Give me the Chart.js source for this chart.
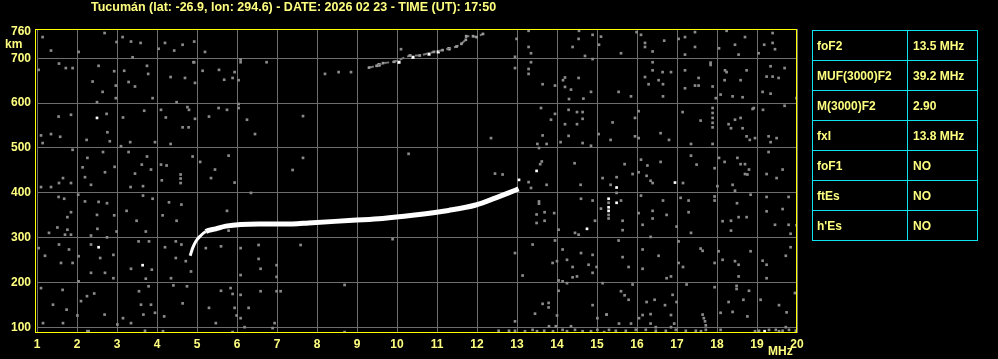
<!DOCTYPE html>
<html>
<head>
<meta charset="utf-8">
<script src="https://cdn.jsdelivr.net/npm/chart.js@4/dist/chart.umd.min.js"></script>
<style>
  html, body { margin: 0; padding: 0; background: #000; }
  #wrap { position: relative; width: 998px; height: 359px; overflow: hidden; }
  #chart { position: absolute; left: 0; top: 0; }
  #params {
    position: absolute; left: 812px; top: 30px;
    border-collapse: collapse; border: 1px solid #10e0f0;
    font: bold 12px "Liberation Sans", Arial, sans-serif; color: #ffff80;
  }
  #params td { border: 1px solid #10e0f0; height: 29px; padding: 0 0 0 4px; white-space: nowrap; }
  #params td.k { width: 90px; }
  #params td.v { width: 64px; padding-left: 5px; }
</style>
</head>
<body>
<div id="wrap">
  <canvas id="chart" width="998" height="359"></canvas>
  <table id="params"></table>
</div>
<script>
  const title = 'Tucumán (lat: -26.9, lon: 294.6) - DATE: 2026 02 23 - TIME (UT): 17:50';
  const xTicks = [1, 2, 3, 4, 5, 6, 7, 8, 9, 10, 11, 12, 13, 14, 15, 16, 17, 18, 19, 20];
  const yTicks = [100, 200, 300, 400, 500, 600, 700, 760];

  const paramNames = ['foF2', 'MUF(3000)F2', 'M(3000)F2', 'fxI', 'foF1', 'ftEs', "h'Es"];
  const paramValues = ['13.5 MHz', '39.2 MHz', '2.90', '13.8 MHz', 'NO', 'NO', 'NO'];

  // F2 trace (ordinary echo)
  const traceMHz = [4.83, 4.89, 4.97, 5.07, 5.22, 5.47, 5.72, 6.54, 7.39, 7.79, 8.89, 9.64, 10.39, 11.29, 11.97, 12.47, 12.79, 13.04];
  const traceKm = [260, 277, 292, 303, 314, 320, 326, 331, 331, 333, 339, 343, 350, 361, 373, 389, 400, 409];

  // second hop trace
  const hopMHz = [9.30, 9.49, 9.65, 9.93, 10.32, 10.57, 10.92, 11.14, 11.49, 11.61, 11.72, 11.73, 11.90, 11.99, 12.15];
  const hopKm = [679, 683, 689, 692, 706, 706, 714, 718, 726, 732, 741, 749, 749, 747, 754];
  const hopWhite = [[10.05, 691], [10.40, 702], [10.80, 709], [11.03, 714], [11.30, 721], [9.55, 685]];

  const whiteSpecks = [[2.50, 567], [2.54, 279], [3.64, 239], [13.49, 449], [14.75, 320], [16.95, 423],
    [15.49, 412], [15.29, 387], [15.29, 368], [15.29, 360], [15.49, 378], [19.19, 92], [13.05, 429]];

  const noiseLow = [
    [2.69, 756], [1.14, 747], [2.99, 736], [3.14, 747], [3.35, 737], [3.59, 734], [3.39, 702], [2.04, 714],
    [1.35, 717], [4.20, 734], [4.43, 717], [4.04, 721], [4.64, 730], [5.20, 714], [4.93, 737], [1.55, 688],
    [1.72, 678], [1.89, 678], [1.04, 674], [2.54, 683], [3.18, 672], [2.93, 671], [3.78, 665], [3.75, 683],
    [4.34, 658], [4.70, 656], [4.95, 645], [5.14, 672], [5.55, 674], [5.68, 652], [4.91, 691], [4.93, 691],
    [2.97, 639], [2.64, 625], [2.97, 611], [2.50, 602], [3.89, 611], [4.49, 602], [2.39, 648], [3.29, 647],
    [3.45, 637], [1.85, 574], [1.54, 570], [2.74, 576], [3.15, 568], [3.68, 583], [4.10, 585], [4.22, 568],
    [4.76, 591], [4.80, 585], [4.95, 565], [5.30, 570], [5.54, 589], [4.64, 546], [4.79, 546], [1.10, 528],
    [1.35, 531], [1.14, 511], [1.58, 525], [2.24, 518], [2.76, 535], [2.82, 515], [3.10, 504], [3.33, 513],
    [3.95, 513], [4.34, 509], [1.89, 496], [2.26, 478], [2.14, 457], [2.20, 435], [2.35, 418], [2.70, 446],
    [2.94, 458], [1.55, 422], [1.65, 433], [1.85, 422], [1.35, 413], [1.10, 413], [2.65, 491], [3.29, 491],
    [3.75, 481], [3.62, 463], [3.85, 452], [3.45, 443], [3.65, 415], [3.34, 413], [4.10, 463], [4.24, 461],
    [4.12, 428], [4.59, 441], [4.59, 422], [4.59, 432], [4.89, 481], [5.08, 469], [5.35, 433], [5.45, 452],
    [1.54, 391], [1.68, 387], [2.03, 396], [2.20, 381], [2.54, 380], [2.75, 377], [1.85, 357], [1.76, 346],
    [2.50, 351], [2.93, 350], [2.99, 314], [3.24, 360], [3.49, 338], [3.65, 394], [3.89, 387], [4.14, 350],
    [4.30, 379], [4.61, 374], [4.49, 338], [3.72, 314], [1.51, 323], [1.76, 318], [1.30, 311], [1.70, 307],
    [1.85, 307], [2.51, 320], [2.35, 305], [2.75, 301], [1.04, 277], [1.55, 285], [1.80, 274], [1.20, 260],
    [1.60, 244], [1.89, 244], [2.04, 259], [2.35, 285], [2.58, 255], [2.91, 262], [2.91, 210], [2.35, 222],
    [2.70, 222], [3.54, 292], [3.80, 292], [3.35, 231], [3.87, 229], [3.72, 209], [4.20, 279], [4.47, 292],
    [4.61, 285], [4.47, 255], [4.72, 248], [4.35, 210], [4.85, 225], [5.22, 277], [5.60, 281], [1.10, 188],
    [1.64, 184], [2.04, 203], [2.25, 170], [2.43, 176], [2.10, 159], [1.40, 151], [1.74, 140], [2.01, 127],
    [1.65, 110], [1.15, 110], [2.69, 129], [3.15, 121], [3.35, 110], [3.01, 107], [3.55, 181], [3.79, 192],
    [3.60, 151], [3.85, 151], [3.66, 129], [3.95, 133], [4.18, 125], [4.41, 194], [4.75, 192], [4.64, 154],
    [5.30, 144], [5.60, 182], [5.47, 110], [2.26, 92], [3.70, 93], [2.29, 92], [4.15, 92]
  ];

  const noiseMid = [
    [6.09, 697], [6.09, 691], [6.74, 691], [5.94, 669], [5.89, 656], [6.04, 651], [8.20, 665], [8.54, 669],
    [8.85, 669], [10.10, 720], [5.75, 585], [6.04, 598], [6.04, 589], [6.25, 563], [6.45, 531], [7.65, 571],
    [5.79, 483], [7.65, 478], [7.39, 451], [10.29, 487], [5.94, 423], [6.35, 400], [5.75, 360], [5.79, 316],
    [6.09, 277], [6.54, 284], [7.59, 284], [6.54, 253], [6.59, 231], [6.99, 239], [6.99, 213], [6.09, 217],
    [5.84, 188], [5.89, 175], [6.09, 173], [6.59, 181], [6.99, 181], [7.09, 181], [8.69, 195], [9.89, 297],
    [5.94, 144], [6.29, 144], [6.09, 121], [5.99, 127], [6.19, 101], [6.94, 110], [6.89, 99], [5.89, 90],
    [8.69, 90], [12.35, 522], [12.45, 443], [12.64, 441], [12.95, 703], [12.95, 678], [12.99, 743],
    [12.95, 266], [13.14, 216], [12.95, 114], [12.54, 93], [12.80, 93], [12.95, 93]
  ];

  const noiseHigh = [
    [13.29, 761], [14.55, 761], [14.89, 752], [15.10, 748], [15.05, 730], [14.54, 743], [14.39, 725],
    [13.29, 725], [13.35, 711], [14.70, 705], [14.89, 698], [13.35, 691], [13.29, 676], [13.29, 665],
    [13.64, 642], [13.95, 639], [14.20, 657], [14.15, 651], [14.20, 636], [14.35, 630], [14.54, 656],
    [14.85, 625], [14.30, 609], [14.66, 610], [13.60, 589], [13.95, 576], [13.85, 563], [14.29, 585],
    [14.50, 580], [14.64, 580], [14.64, 565], [14.20, 553], [14.50, 553], [15.04, 531], [13.64, 528],
    [14.29, 527], [14.64, 511], [14.85, 505], [14.09, 513], [13.51, 509], [13.74, 509], [13.55, 500],
    [13.62, 470], [13.58, 464], [13.35, 411], [13.29, 424], [13.74, 418], [14.44, 466], [15.14, 433],
    [14.59, 418], [13.55, 381], [13.55, 376], [13.69, 357], [13.49, 352], [13.49, 333], [13.69, 338],
    [13.93, 355], [14.60, 387], [14.89, 383], [15.10, 365], [14.04, 318], [14.45, 311], [14.54, 307],
    [14.95, 338], [13.39, 285], [13.95, 294], [14.14, 274], [14.25, 251], [14.00, 248], [13.89, 244],
    [14.39, 235], [14.60, 266], [14.89, 262], [14.79, 240], [14.99, 235], [14.39, 212], [14.50, 214],
    [14.89, 222], [14.04, 205], [14.14, 203], [14.25, 199], [15.14, 199], [14.04, 182], [13.64, 153],
    [13.79, 155], [13.79, 145], [13.45, 131], [14.89, 150], [14.00, 127], [15.01, 121], [15.24, 129],
    [13.39, 95], [13.68, 93], [13.80, 103], [13.97, 103], [14.14, 95], [14.35, 103], [14.45, 95],
    [14.64, 92], [14.85, 92], [15.01, 95], [15.18, 90], [13.20, 92], [13.50, 92], [13.90, 92], [14.25, 92],
    [15.99, 758], [16.10, 752], [16.68, 739], [17.04, 743], [17.20, 747], [17.45, 758], [18.24, 761],
    [18.70, 747], [19.39, 756], [15.60, 711], [16.20, 734], [16.20, 725], [16.39, 715], [17.20, 708],
    [17.45, 725], [18.05, 722], [18.54, 708], [18.45, 730], [19.04, 711], [19.18, 730], [19.39, 734],
    [19.45, 720], [16.39, 691], [17.84, 685], [17.84, 690], [16.39, 673], [16.64, 669], [16.85, 669],
    [17.20, 673], [18.20, 673], [18.24, 669], [18.74, 673], [19.34, 682], [19.69, 678], [16.20, 658],
    [16.29, 642], [16.54, 651], [16.65, 642], [17.54, 656], [17.20, 633], [17.45, 639], [17.54, 639],
    [17.89, 637], [18.19, 651], [18.59, 651], [19.24, 659], [19.39, 659], [19.54, 656], [15.54, 625],
    [15.85, 615], [16.65, 615], [17.97, 611], [18.09, 619], [18.39, 615], [18.64, 613], [19.14, 625],
    [19.34, 621], [19.99, 611], [17.89, 589], [17.89, 578], [17.89, 567], [17.89, 556], [17.89, 546],
    [16.04, 582], [15.95, 567], [15.39, 557], [15.34, 518], [15.95, 526], [16.04, 522], [16.59, 533],
    [16.80, 518], [17.14, 580], [17.59, 561], [17.35, 509], [17.89, 509], [18.29, 553], [18.35, 544],
    [18.45, 563], [18.59, 567], [18.64, 544], [18.74, 526], [18.82, 518], [18.95, 522], [18.89, 587],
    [18.92, 589], [19.15, 585], [19.29, 526], [19.49, 522], [19.34, 513], [19.69, 594], [15.69, 464],
    [15.89, 442], [15.49, 435], [15.34, 418], [15.49, 400], [15.29, 378], [15.29, 351], [15.29, 343],
    [15.60, 383], [16.04, 446], [16.10, 474], [16.26, 461], [16.59, 469], [16.24, 438], [16.39, 422],
    [16.34, 427], [17.15, 422], [17.35, 483], [17.49, 463], [17.94, 455], [18.01, 415], [18.05, 478],
    [18.19, 469], [18.39, 418], [18.45, 405], [18.51, 478], [18.59, 464], [18.70, 464], [18.80, 452],
    [18.70, 442], [18.76, 441], [19.24, 442], [19.49, 433], [19.64, 452], [19.29, 491], [16.10, 394],
    [16.04, 355], [16.39, 360], [16.39, 343], [15.64, 338], [15.64, 317], [16.14, 329], [16.34, 302],
    [16.74, 351], [16.65, 383], [16.99, 325], [17.09, 389], [17.29, 383], [17.29, 357], [17.35, 311],
    [17.94, 392], [17.94, 383], [18.14, 337], [18.35, 338], [18.35, 316], [18.54, 346], [18.74, 346],
    [18.50, 377], [18.84, 396], [19.24, 391], [19.24, 359], [19.64, 364], [19.79, 391], [19.79, 329],
    [19.84, 309], [19.99, 328], [19.45, 329], [15.54, 294], [15.64, 257], [15.79, 235], [16.14, 274],
    [16.14, 231], [16.54, 260], [16.74, 210], [16.85, 214], [17.04, 292], [17.04, 244], [17.15, 235],
    [17.59, 276], [17.64, 271], [17.94, 244], [18.04, 270], [18.14, 251], [18.45, 248], [18.54, 240],
    [18.54, 214], [18.84, 270], [19.14, 249], [19.24, 240], [19.24, 210], [19.72, 260], [19.84, 279],
    [15.89, 196], [15.60, 181], [15.69, 172], [15.79, 162], [16.24, 157], [16.14, 128], [16.34, 130],
    [16.44, 162], [16.70, 150], [16.85, 128], [16.89, 173], [16.99, 157], [17.24, 196], [17.64, 129],
    [17.67, 121], [17.70, 114], [17.72, 105], [17.94, 190], [18.09, 133], [18.39, 135], [18.29, 157],
    [18.49, 193], [18.49, 186], [18.66, 162], [18.80, 182], [19.09, 162], [19.55, 150], [19.74, 134],
    [19.95, 177], [15.24, 129], [15.55, 109], [15.85, 109], [16.05, 121], [16.34, 109], [16.47, 101],
    [16.85, 101], [16.93, 109], [18.76, 125], [19.72, 101],
    [15.30, 95], [15.47, 93], [15.72, 93], [15.97, 95], [16.22, 95], [16.47, 93], [16.72, 93], [16.97, 95],
    [17.22, 93], [17.47, 93], [17.72, 95], [18.09, 95], [19.05, 93], [19.30, 95], [19.47, 95], [19.64, 93],
    [19.80, 95], [19.97, 93], [17.60, 92], [18.95, 92], [19.55, 92]
  ];

  const GRID = '#6e6e6e';
  const SPECK = '#8a8a8a';
  const YELLOW = '#ffff80';
  const FONT = { family: '"Liberation Sans", Arial, sans-serif', size: 12, weight: 'bold' };

  const table = document.getElementById('params');
  table.innerHTML = paramNames.map((name, i) =>
    `<tr><td class="k">${name}</td><td class="v">${paramValues[i]}</td></tr>`).join('');

  const toPoints = (pairs) => pairs.map(([x, y]) => ({ x, y }));

  const frame = {
    id: 'frame',
    afterDatasetsDraw(chart) {
      const { ctx, chartArea: a } = chart;
      ctx.save();
      ctx.strokeStyle = '#ffff00';
      ctx.lineWidth = 1;
      ctx.strokeRect(a.left - 1.5, a.top + 0.5, a.right - a.left + 1, a.bottom - a.top - 1);
      ctx.fillStyle = YELLOW;
      ctx.textBaseline = 'middle';
      ctx.textAlign = 'left';
      ctx.font = `bold 12.5px ${FONT.family}`;
      ctx.fillText(title, 91, 8);
      ctx.font = `bold 12px ${FONT.family}`;
      ctx.fillText('km', 5, 45);
      ctx.fillText('MHz', 768, 352);
      ctx.restore();
    }
  };

  new Chart(document.getElementById('chart'), {
    type: 'scatter',
    data: {
      datasets: [
        {
          data: toPoints(noiseLow.concat(noiseMid, noiseHigh)),
          pointStyle: 'rect', pointRadius: 1.9, pointBackgroundColor: SPECK, pointBorderWidth: 0
        },
        {
          type: 'line',
          data: hopMHz.map((x, i) => ({ x, y: hopKm[i] })),
          borderColor: '#7a7a7a', borderWidth: 2, borderDash: [5, 3],
          pointStyle: 'rect', pointRadius: 1.9, pointBackgroundColor: '#9a9a9a', pointBorderWidth: 0,
          fill: false
        },
        {
          data: toPoints(hopWhite),
          pointStyle: 'rect', pointRadius: 2.2, pointBackgroundColor: '#ffffff', pointBorderWidth: 0
        },
        {
          type: 'line',
          data: traceMHz.map((x, i) => ({ x, y: traceKm[i] })),
          borderColor: '#ffffff',
          borderWidth: 5,
          segment: { borderWidth: (c) => (c.p0DataIndex < 4 ? 3 : 5) },
          cubicInterpolationMode: 'monotone',
          pointRadius: 0,
          fill: false
        },
        {
          data: toPoints(whiteSpecks),
          pointStyle: 'rect', pointRadius: 1.9, pointBackgroundColor: '#ffffff', pointBorderWidth: 0
        }
      ]
    },
    options: {
      responsive: false,
      animation: false,
      devicePixelRatio: 1,
      layout: { padding: { top: 29, right: 201, bottom: 0, left: 0 } },
      plugins: { legend: { display: false }, tooltip: { enabled: false } },
      scales: {
        x: {
          type: 'linear', min: 1, max: 20,
          afterBuildTicks: (s) => { s.ticks = xTicks.map((value) => ({ value })); },
          afterFit: (s) => { s.height = 26; },
          grid: { color: GRID, lineWidth: 1, drawTicks: false },
          border: { display: false },
          ticks: { color: YELLOW, font: FONT, padding: 4, maxRotation: 0, autoSkip: false }
        },
        y: {
          type: 'linear', min: 88, max: 765,
          afterBuildTicks: (s) => { s.ticks = yTicks.map((value) => ({ value })); },
          afterFit: (s) => { s.width = 37; },
          grid: {
            color: (c) => (c.tick && c.tick.value === 760 ? 'rgba(0,0,0,0)' : GRID),
            lineWidth: 1, drawTicks: false
          },
          border: { display: false },
          ticks: { color: YELLOW, font: FONT, padding: 6, autoSkip: false }
        }
      }
    },
    plugins: [frame]
  });
</script>
</body>
</html>
